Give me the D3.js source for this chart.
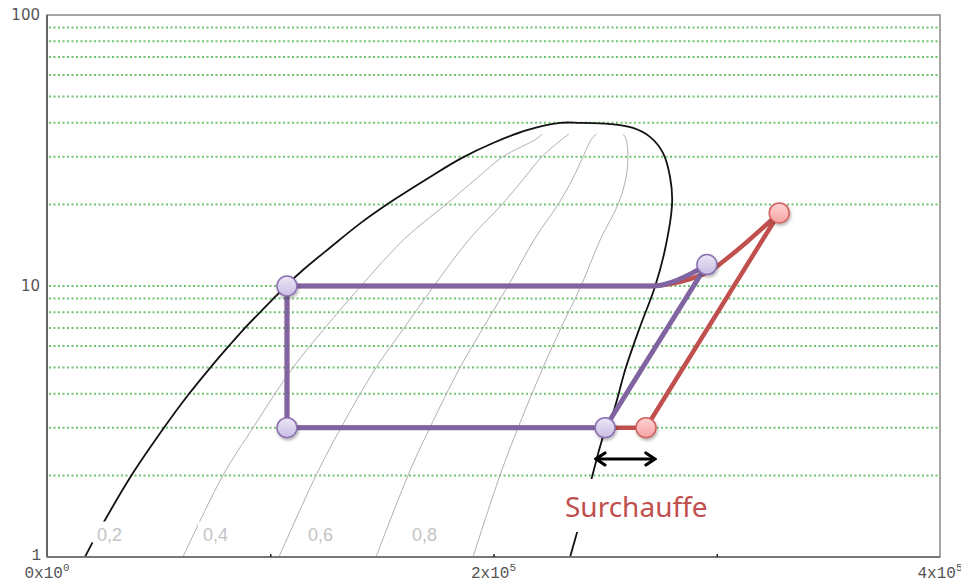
<!DOCTYPE html>
<html>
<head>
<meta charset="utf-8">
<script src="https://cdn.jsdelivr.net/npm/d3@7"></script>
<style>
  body { margin: 0; background: #fff; }
</style>
</head>
<body>
<div id="chart"></div>
<script>
// enthalpy (J/kg) / pressure (bar) readings
const domeH = [17000, 22800, 38500, 52400, 63200, 73000, 81100, 87800, 102100, 107500, 114900, 127000, 140600, 155400, 170700, 185900, 199800, 215000, 229800, 238700, 252200, 262500, 270100, 275900, 279100, 280000, 276800, 272300, 265600, 259300, 253500, 250400, 247700, 244100, 237400, 234300];
const domeP = [1.0, 1.23, 2.04, 3.0, 3.96, 4.98, 5.96, 6.88, 9.11, 10.1, 11.5, 13.9, 17.1, 20.8, 25.0, 29.7, 33.7, 37.6, 40.0, 40.0, 39.6, 38.3, 35.5, 31.0, 25.2, 20.2, 13.6, 9.92, 7.06, 5.0, 3.4, 3.0, 2.55, 1.97, 1.23, 1.0];

const qualityP = [1, 2, 3, 5, 7, 10, 15, 20, 25, 30, 35, 36.4];
const quality02 = [60900, 78800, 92300, 110200, 124500, 140600, 160400, 178700, 192600, 204200, 219500, 221700];
const quality04 = [103900, 120500, 131700, 147400, 159900, 173300, 189500, 203800, 213700, 221700, 231100, 233800];
const quality06 = [147400, 161700, 171500, 185000, 195300, 206500, 218600, 228900, 235600, 240100, 244100, 246300];
const quality08 = [190800, 202900, 211000, 222200, 230200, 239200, 248100, 255800, 259300, 260200, 259300, 258000];
const qualityLabels = ['0,2', '0,4', '0,6', '0,8'];
const qualityLabelH = [22400, 69900, 116900, 163500];
const qualityLabelP = 1.15;

// cycle without superheat (purple)
const cycleH = [107500, 107500, 250000, 295600, 289400, 282200, 274600, 271400, 107500];
const cycleP = [10, 3, 3, 12.0, 11.2, 10.5, 10.05, 10.0, 10];
const cyclePointsH = [107500, 107500, 250000, 295600];
const cyclePointsP = [10, 3, 3, 12.0];

// cycle with superheat (red)
const superH = [107500, 107500, 250000, 268300, 328000, 313500, 303700, 297000, 288000, 279000, 271400, 107500];
const superP = [10, 3, 3, 3, 18.6, 14.54, 12.47, 11.36, 10.61, 10.17, 10.0, 10];
const superPointsH = [268300, 328000];
const superPointsP = [3, 18.6];

const arrowH = [245900, 272300];
const arrowP = 2.3;

const gridP = [2, 3, 4, 5, 6, 7, 8, 9, 10, 20, 30, 40, 50, 60, 70, 80, 90];
const yTicks = [1, 10, 100];
const xTicks = [0, 200000, 400000];
const xTickBase = ['0x10', '2x10', '4x10'];
const xTickExp = ['0', '5', '5'];
const xMinorTicks = [100000, 200000, 300000];

const W = 961, H = 582;
const margin = { top: 15, right: 21, bottom: 25, left: 47 };

const x = d3.scaleLinear().domain([0, 400000]).range([margin.left, W - margin.right]);
const y = d3.scaleLog().domain([1, 100]).range([H - margin.bottom, margin.top]);

const svg = d3.select('#chart').append('svg')
  .attr('width', W)
  .attr('height', H)
  .style('display', 'block');

const defs = svg.append('defs');
defs.append('clipPath').attr('id', 'plot-clip')
  .append('rect')
  .attr('x', x(0)).attr('y', y(100))
  .attr('width', x(400000) - x(0)).attr('height', y(1) - y(100));

const shadow = defs.append('filter').attr('id', 'shadow')
  .attr('x', '-50%').attr('y', '-50%').attr('width', '200%').attr('height', '200%');
shadow.append('feDropShadow')
  .attr('dx', 1).attr('dy', 2).attr('stdDeviation', 1.5)
  .attr('flood-color', '#000').attr('flood-opacity', 0.3);

function gradient(id, c1, c2) {
  const g = defs.append('linearGradient').attr('id', id)
    .attr('x1', 0).attr('y1', 0).attr('x2', 0).attr('y2', 1);
  g.append('stop').attr('offset', '0%').attr('stop-color', c1);
  g.append('stop').attr('offset', '100%').attr('stop-color', c2);
}
gradient('purple-fill', '#ece7f6', '#c9bde3');
gradient('red-fill', '#ffd3d3', '#f7a3a3');

defs.append('marker').attr('id', 'arrowhead')
  .attr('viewBox', '-12 -8 14 16')
  .attr('refX', 0).attr('refY', 0)
  .attr('markerWidth', 14).attr('markerHeight', 16)
  .attr('markerUnits', 'userSpaceOnUse')
  .attr('orient', 'auto-start-reverse')
  .append('path')
  .attr('d', 'M-9,-6 L0,0 L-9,6')
  .attr('fill', 'none')
  .attr('stroke', '#000')
  .attr('stroke-width', 3.2)
  .attr('stroke-linecap', 'round')
  .attr('stroke-linejoin', 'miter');

// Green dotted grid
svg.append('g')
  .selectAll('line')
  .data(gridP)
  .enter().append('line')
  .attr('x1', x(0) + 2)
  .attr('x2', x(400000))
  .attr('y1', d => y(d))
  .attr('y2', d => y(d))
  .attr('stroke', '#6fc46f')
  .attr('stroke-width', 2)
  .attr('stroke-dasharray', '2,2.5');

const plot = svg.append('g').attr('clip-path', 'url(#plot-clip)');

const line = d3.line()
  .x(d => x(d[0]))
  .y(d => y(d[1]));

const pairs = (hs, ps) => hs.map((h, i) => [h, ps[i]]);

// straight part, smooth part, straight part
function cyclePath(pts, curveFrom, curveTo) {
  const a = line.curve(d3.curveLinear)(pts.slice(0, curveFrom + 1));
  const b = line.curve(d3.curveCatmullRom)(pts.slice(curveFrom, curveTo + 1)).replace(/^M[^A-Za-z]*/, '');
  const c = line.curve(d3.curveLinear)(pts.slice(curveTo)).replace(/^M[^A-Za-z]*/, '');
  return a + b + c;
}

// Quality lines
[quality02, quality04, quality06, quality08].forEach(q => {
  plot.append('path')
    .attr('fill', 'none')
    .attr('stroke', '#b0b0b0')
    .attr('stroke-width', 1)
    .attr('d', line.curve(d3.curveCatmullRom)(pairs(q, qualityP)));
});

// Saturation dome
plot.append('path')
  .attr('fill', 'none')
  .attr('stroke', '#111')
  .attr('stroke-width', 1.8)
  .attr('d', line.curve(d3.curveCatmullRom)(pairs(domeH, domeP)));

// Quality labels
const qLab = svg.append('g');
qualityLabels.forEach((t, i) => {
  const g = qLab.append('g');
  const txt = g.append('text')
    .attr('x', x(qualityLabelH[i]))
    .attr('y', y(qualityLabelP))
    .attr('font-family', 'Liberation Sans, Arial, sans-serif')
    .attr('font-size', 18)
    .attr('fill', '#c4c4c4')
    .text(t);
  const b = txt.node().getBBox();
  g.insert('rect', 'text')
    .attr('x', b.x - 5).attr('y', b.y - 3)
    .attr('width', b.width + 8).attr('height', b.height + 1)
    .attr('fill', '#fff');
});

// Red cycle (with superheat)
svg.append('path')
  .attr('fill', 'none')
  .attr('stroke', '#c0504d')
  .attr('stroke-width', 4.5)
  .attr('stroke-linejoin', 'round')
  .attr('d', cyclePath(pairs(superH, superP), 4, 10));

// Purple cycle
svg.append('path')
  .attr('fill', 'none')
  .attr('stroke', '#8064a2')
  .attr('stroke-width', 5)
  .attr('stroke-linejoin', 'round')
  .attr('d', cyclePath(pairs(cycleH, cycleP), 3, 7));

// Points
svg.append('g')
  .selectAll('circle')
  .data(pairs(superPointsH, superPointsP))
  .enter().append('circle')
  .attr('cx', d => x(d[0]))
  .attr('cy', d => y(d[1]))
  .attr('r', 10)
  .attr('fill', 'url(#red-fill)')
  .attr('stroke', '#d0625f')
  .attr('stroke-width', 1.5)
  .attr('filter', 'url(#shadow)');

svg.append('g')
  .selectAll('circle')
  .data(pairs(cyclePointsH, cyclePointsP))
  .enter().append('circle')
  .attr('cx', d => x(d[0]))
  .attr('cy', d => y(d[1]))
  .attr('r', 10)
  .attr('fill', 'url(#purple-fill)')
  .attr('stroke', '#8a70b0')
  .attr('stroke-width', 1.5)
  .attr('filter', 'url(#shadow)');

// Double arrow
svg.append('line')
  .attr('x1', x(arrowH[0]))
  .attr('x2', x(arrowH[1]))
  .attr('y1', y(arrowP))
  .attr('y2', y(arrowP))
  .attr('stroke', '#000')
  .attr('stroke-width', 3)
  .attr('marker-start', 'url(#arrowhead)')
  .attr('marker-end', 'url(#arrowhead)');

// Surchauffe label
svg.append('rect')
  .attr('x', 558).attr('y', 479)
  .attr('width', 154).attr('height', 53)
  .attr('fill', '#fff');
svg.append('text')
  .attr('x', 565)
  .attr('y', 517)
  .attr('font-family', 'Noto Sans, sans-serif')
  .attr('font-size', 28)
  .attr('fill', '#c0504d')
  .text('Surchauffe');

// Frame
svg.append('rect')
  .attr('x', x(0)).attr('y', y(100))
  .attr('width', x(400000) - x(0)).attr('height', y(1) - y(100))
  .attr('fill', 'none')
  .attr('stroke', '#888')
  .attr('stroke-width', 1.5);
svg.append('line')
  .attr('x1', x(0)).attr('x2', x(0))
  .attr('y1', y(100)).attr('y2', y(1))
  .attr('stroke', '#666').attr('stroke-width', 2);
svg.append('line')
  .attr('x1', x(0)).attr('x2', x(400000))
  .attr('y1', y(1)).attr('y2', y(1))
  .attr('stroke', '#777').attr('stroke-width', 2);

// X Axis minor ticks
svg.append('g')
  .attr('transform', `translate(0,${y(1)})`)
  .call(d3.axisBottom(x).tickValues(xMinorTicks).tickSize(-3).tickFormat(''))
  .call(g => g.select('.domain').remove())
  .call(g => g.selectAll('.tick line').attr('stroke', '#222').attr('stroke-width', 1.5));

// X Axis labels
const xLab = svg.append('g')
  .attr('font-family', 'Liberation Mono, monospace')
  .attr('fill', '#555');
xTicks.forEach((v, i) => {
  const t = xLab.append('text')
    .attr('x', x(v))
    .attr('y', 578)
    .attr('text-anchor', 'middle')
    .attr('font-size', 16);
  t.append('tspan').text(xTickBase[i]);
  t.append('tspan').attr('font-size', 11).attr('dy', -7).text(xTickExp[i]);
});

// Y Axis labels
svg.append('g')
  .selectAll('text')
  .data(yTicks)
  .enter().append('text')
  .attr('x', d => d === 1 ? 41 : 40)
  .attr('y', d => d === 1 ? y(d) + 3 : y(d) + 5)
  .attr('text-anchor', 'end')
  .attr('font-family', d => d === 1 ? 'Liberation Mono, monospace' : 'DejaVu Sans, sans-serif')
  .attr('font-size', d => d === 1 ? 16 : 15)
  .attr('fill', '#555')
  .text(d => d);
</script>
</body>
</html>
